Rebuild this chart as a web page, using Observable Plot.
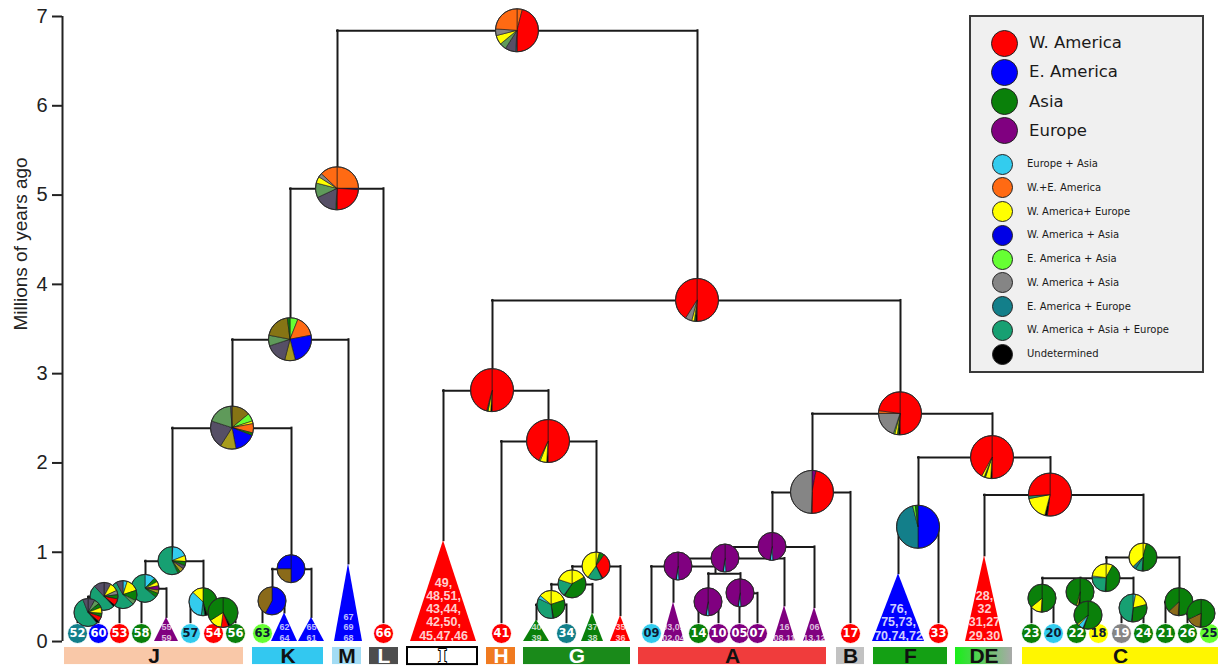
<!DOCTYPE html>
<html>
<head>
<meta charset="utf-8">
<script src="https://cdn.jsdelivr.net/npm/d3@7"></script>
<script src="https://cdn.jsdelivr.net/npm/@observablehq/plot@0.6"></script>
<style>
html,body{margin:0;padding:0;background:#fff;}
#wrap{position:relative;width:1218px;height:668px;overflow:hidden;}
#legend{position:absolute;left:969px;top:15px;width:231px;height:354px;border:2px solid #3a3a3a;background:#f0f0f0;font-family:"DejaVu Sans",Verdana,sans-serif;color:#1a1a1a;}
#legend .sw{position:absolute;border-radius:50%;box-sizing:border-box;border:1px solid #222;}
#legend .lb{position:absolute;white-space:nowrap;line-height:1;transform:translateY(-50%);}
</style>
</head>
<body>
<div id="wrap"><div id="legend"></div></div>
<script>
// ---------- area categories ----------
const regionKeys = ["WA","EA","AS","EU","EUAS","WAEA","WAEU","WAAS","EAAS","WAAS2","EAEU","WAASEU","UND","DG","OL","KH","MG","BR","NV"];
const regionColors = ["#ff0000","#0000ff","#0a800a","#800080","#33ccee","#ff6a13","#ffff00","#0000e6","#66ff33","#858585","#137f8a","#17a072","#000000","#564f66","#867414","#a89c1c","#5f9a5a","#8a6a1a","#1a1a80"];
const legendKeys = ["WA","EA","AS","EU","EUAS","WAEA","WAEU","WAAS","EAAS","WAAS2","EAEU","WAASEU","UND"];
const legendLabels = ["W. America","E. America","Asia","Europe","Europe + Asia","W.+E. America","W. America+ Europe","W. America + Asia","E. America + Asia","W. America + Asia","E. America + Europe","W. America + Asia + Europe","Undetermined"];
const colorOf = k => regionColors[regionKeys.indexOf(k)];

// ---------- internal nodes (leaf-axis position, age in Myr, children) ----------
const nodeIds = ["Root","N5","N34","N24","NJ","P4","P3","P2","P1","Q1","Q2","NK","KA","N38","NI","NG","G3","G2","G1","NB","NA","A1","A2","A3","A3b","A4","A5","NC","NF","ND","NC2","C1","Ca","Cb","Cb2","Cc","CR","CR2"];
const nodePos = [517,337,290,232,172,145,123,104,88,203,223,291,272,697,492,548,596,572,551,900,812,772,725,678,715,708,740,992,918,1050,1143,1106,1042,1080,1088,1133,1179,1201];
const nodeAge = [6.84,5.07,3.38,2.39,0.90,0.59,0.52,0.50,0.32,0.44,0.32,0.81,0.45,3.82,2.81,2.24,0.84,0.64,0.41,2.55,1.67,1.06,0.93,0.84,0.76,0.44,0.54,2.06,1.28,1.64,0.94,0.71,0.48,0.55,0.29,0.37,0.44,0.31];
const nodeChildren = ["N5 N38","N34 66","N24 TM","NJ NK","P4 Q1","P3 T55","P2 58","P1 53","52 60","57 Q2","54 56","KA T65","63 T62","NI NB","TI NG","41 G3","G2 T35","G1 T37","T40 34","NA NC","A1 17","A2 T06","A3 T16","09 T03 A3b","A4 A5","14 10","05 07","NF ND","TF 33","TDE NC2","C1 CR","Ca Cb Cc","23 20","Cb2","22 18","19 24","21 CR2","26 25"];

// ---------- single tips ----------
const tipIds = ["52","60","53","58","57","54","56","63","66","41","34","09","14","10","05","07","17","33","23","20","22","18","19","24","21","26","25"];
const tipPos = [77,98,119,141,190,213,235,262,383,501,566,651,698,718,739,757,850,938,1031,1053,1076,1098,1121,1143,1165,1187,1209];
const tipRegion = ["EAEU","EA","WA","AS","EUAS","WA","AS","EAAS","WA","WA","EAEU","EUAS","AS","EU","EU","EU","WA","WA","AS","EUAS","AS","WAEU","WAAS2","AS","AS","AS","EAAS"];
const tipAge = 0.09;

// ---------- collapsed clades (triangles) ----------
const triIds = ["T55","T62","T65","TM","TI","T40","T37","T35","T03","T16","T06","TF","TDE"];
const triPos = [166,284,311,348,443,536,592,620,673,784,814,898,984];
const triSpread = [12,13,13,14,33,13,11,10,11,11,11,26,19];
const triApex = [0.27,0.32,0.27,0.87,1.13,0.24,0.32,0.29,0.44,0.40,0.38,0.76,0.96];
const triRegion = ["EU","EA","EA","EA","WA","AS","AS","WA","EU","EU","EU","EA","WA"];
const triLabel = ["55\n59","62\n64","65\n61","67\n69\n68","49,\n48,51,\n43,44,\n42,50,\n45,47,46","40\n39","37\n38","35\n36","03,01\n02,04","16\n08,11","06\n13,12","76,\n75,73,\n70,74,72","28,\n32\n31,27\n29,30"];
const triLarge = ["TI","TF","TDE"];

// ---------- ancestral-area pies (clockwise from 12 o'clock) ----------
const pieIds = ["Root","N5","N34","N24","NJ","P4","P3","P2","P1","Q1","Q2","NK","KA","N38","NI","NG","G3","G2","G1","NB","NA","A1","A2","A3","A4","A5","NC","NF","ND","NC2","C1","Ca","Cb","Cb2","Cc","CR","CR2"];
const majorPies = ["Root","N5","N34","N24","N38","NI","NG","NB","NA","NC","NF","ND"];
const europePie = [["EU",.49],["EUAS",.03],["UND",.005],["EU",.475]];
const pieSlices = [
  [["WAEA",.04],["WA",.46],["EAEU",.01],["DG",.08],["MG",.05],["WAEU",.07],["WAAS2",.05],["WAEA",.24]],
  [["WAEA",.25],["NV",.01],["WA",.24],["AS",.01],["DG",.17],["MG",.11],["WAEU",.05],["WAAS2",.03],["WAEA",.13]],
  [["EAAS",.06],["WAEA",.16],["EA",.24],["KH",.08],["DG",.16],["MG",.08],["OL",.20],["AS",.02]],
  [["OL",.14],["EAAS",.06],["WAEU",.02],["WAEA",.07],["AS",.02],["EA",.16],["KH",.12],["DG",.21],["MG",.19],["DG",.01]],
  [["UND",.01],["EUAS",.18],["WAEU",.07],["AS",.05],["DG",.04],["KH",.05],["AS",.03],["WAASEU",.57]],
  [["EUAS",.12],["AS",.05],["WAEU",.05],["EU",.05],["KH",.04],["AS",.05],["WAASEU",.64]],
  [["EUAS",.05],["WAEU",.15],["AS",.12],["MG",.05],["WAASEU",.55],["DG",.08]],
  [["DG",.08],["WAEU",.10],["WAAS2",.05],["AS",.05],["WA",.08],["UND",.02],["WAASEU",.50],["DG",.12]],
  [["DG",.08],["MG",.06],["AS",.05],["WAEU",.07],["AS",.04],["WA",.06],["UND",.03],["WAASEU",.55],["DG",.06]],
  [["AS",.45],["UND",.03],["WAASEU",.04],["EUAS",.35],["WAEU",.13]],
  [["AS",.42],["UND",.02],["WA",.08],["WAEU",.14],["AS",.34]],
  [["EA",.5],["BR",.25],["EA",.25]],
  [["EA",.58],["BR",.42]],
  [["WA",.5],["UND",.01],["AS",.01],["WAEU",.02],["WAAS2",.05],["WA",.41]],
  [["WA",.5],["UND",.01],["WAEU",.02],["AS",.01],["WA",.46]],
  [["WA",.5],["UND",.01],["WAEU",.05],["EAAS",.01],["WA",.43]],
  [["WAEU",.04],["AS",.06],["WA",.32],["UND",.01],["WAASEU",.17],["WAEU",.40]],
  [["WAEU",.17],["AS",.42],["UND",.01],["WAASEU",.20],["WAEU",.20]],
  [["WAEU",.20],["AS",.27],["UND",.01],["WAASEU",.34],["EUAS",.04],["WAEU",.14]],
  [["WA",.5],["UND",.01],["AS",.01],["WAEU",.02],["EAAS",.01],["WAAS2",.20],["WAEA",.02],["WA",.23]],
  [["EU",.03],["WA",.47],["UND",.005],["WAAS2",.495]],
  europePie, europePie, europePie, europePie, europePie,
  [["WA",.5],["UND",.01],["WAEU",.04],["AS",.01],["WAEU",.02],["WA",.42]],
  [["EA",.5],["EAEU",.46],["EAAS",.02],["AS",.02]],
  [["WA",.52],["UND",.02],["WAEU",.18],["WAASEU",.02],["WA",.26]],
  [["WAEU",.04],["AS",.46],["UND",.01],["WAASEU",.08],["EAEU",.04],["WAEU",.37]],
  [["WAEU",.08],["AS",.42],["UND",.01],["WAASEU",.24],["EUAS",.02],["WAEU",.23]],
  [["AS",.5],["UND",.01],["WAEU",.13],["AS",.36]],
  [["AS",.5],["UND",.02],["WAEU",.02],["AS",.46]],
  [["AS",.55],["UND",.01],["EUAS",.06],["WAEU",.02],["AS",.36]],
  [["EUAS",.03],["WAEU",.18],["AS",.30],["UND",.01],["WAASEU",.48]],
  [["AS",.5],["UND",.01],["BR",.12],["AS",.37]],
  [["AS",.5],["UND",.01],["BR",.17],["AS",.32]]
];

// ---------- clade bars ----------
const cladeNames = ["J","K","M","L","I","H","G","A","B","F","DE","C"];
const cladeStart = [64,252,332,369,407,486,523,638,836,873,955,1022];
const cladeEnd = [243,323,361,398,477,515,630,826,864,947,1012,1218];
const cladeFill = ["#f9c8a8","#33c8f0","#a2dcf4","#4d4d4d","#ffffff","#f07a20","#1a8a1a","#f03c3c","#c2c2c2","#14a014","url(#deGrad)","#fff600"];
const cladeInk = ["#111","#111","#111","#fff","#fff","#fff","#fff","#111","#111","#111","#111","#111"];

// ---------- derived tables ----------
const nodes = nodeIds.map((id, i) => ({id, pos: nodePos[i], age: nodeAge[i], children: nodeChildren[i].split(" ")}));
const tips = tipIds.map((id, i) => ({id, pos: tipPos[i], age: tipAge, fillColor: colorOf(tipRegion[i]),
  ink: ["EUAS","EAAS","WAEU"].includes(tipRegion[i]) ? "#0c1a33" : "#ffffff"}));
const tris = triIds.map((id, i) => ({id, pos: triPos[i], half: triSpread[i], age: triApex[i], fillColor: colorOf(triRegion[i]), label: triLabel[i]}));
const lookup = new Map();
nodes.forEach(d => lookup.set(d.id, d));
tips.forEach(d => lookup.set(d.id, d));
tris.forEach(d => lookup.set(d.id, d));

const hLinks = nodes.map(n => {
  const xs = [n.pos, ...n.children.map(c => lookup.get(c).pos)];
  return {y: n.age, x1: d3.min(xs), x2: d3.max(xs)};
});
const vLinks = nodes.flatMap(n => n.children.map(c => {
  const ch = lookup.get(c);
  return {x: ch.pos, y1: ch.age, y2: n.age};
}));
const triPts = tris.flatMap(t => [
  {id: t.id, x: t.pos - t.half, y: 0, fillColor: t.fillColor},
  {id: t.id, x: t.pos, y: t.age, fillColor: t.fillColor},
  {id: t.id, x: t.pos + t.half, y: 0, fillColor: t.fillColor}
]);
const pies = pieIds.map((id, i) => ({id, pos: lookup.get(id).pos, age: lookup.get(id).age,
  r: majorPies.includes(id) ? 21.5 : (id === "Q2" ? 15 : 14), slices: pieSlices[i]}));
const clades = cladeNames.map((name, i) => ({name, x1: cladeStart[i], x2: cladeEnd[i], mid: (cladeStart[i] + cladeEnd[i]) / 2,
  fillColor: cladeFill[i], ink: cladeInk[i], outline: name === "I" ? "#000" : "none"}));

// ---------- custom marks ----------
function gradientDefs() {
  const defs = d3.create("svg:defs");
  const lg = defs.append("linearGradient").attr("id", "deGrad").attr("x1", "0").attr("x2", "1").attr("y1", "0").attr("y2", "0");
  lg.append("stop").attr("offset", "0%").attr("stop-color", "#18ee18");
  lg.append("stop").attr("offset", "100%").attr("stop-color", "#a9a9a9");
  return defs.node();
}
function pieMark(index, scales) {
  const g = d3.create("svg:g");
  const arc = d3.arc().innerRadius(0);
  for (const p of pies) {
    const cx = scales.x(p.pos), cy = scales.y(p.age);
    const arcs = d3.pie().sort(null).value(d => d[1])(p.slices);
    const pg = g.append("g").attr("transform", `translate(${cx},${cy})`);
    pg.selectAll("path").data(arcs).join("path")
      .attr("d", d => arc.outerRadius(p.r)(d))
      .attr("fill", d => colorOf(d.data[0]))
      .attr("stroke", "#1a1a1a").attr("stroke-width", 0.6).attr("stroke-linejoin", "round");
    pg.append("circle").attr("r", p.r).attr("fill", "none").attr("stroke", "#2a2a2a").attr("stroke-width", 1);
  }
  return g.node();
}

const sansBold = "'Liberation Sans', Arial, sans-serif";
const plot = Plot.plot({
  width: 1218, height: 668,
  marginLeft: 62, marginRight: 0, marginTop: 16, marginBottom: 0,
  x: {domain: [62, 1218], axis: null},
  y: {domain: [-0.302, 7], axis: null},
  color: {type: "identity"},
  style: {fontFamily: "'Liberation Sans', Arial, sans-serif", background: "white", color: "#222"},
  marks: [
    gradientDefs,
    Plot.rect(clades, {x1: "x1", x2: "x2", y1: -0.067, y2: -0.258, fill: "fillColor", stroke: "outline", strokeWidth: 2}),
    Plot.text(clades.filter(c => c.name !== "I"), {x: "mid", y: -0.168, text: "name", fill: "ink", fontSize: 21, fontWeight: "bold"}),
    Plot.text(clades.filter(c => c.name === "I"), {x: "mid", y: -0.168, text: "name", fill: "#ffffff", stroke: "#000", strokeWidth: 2, paintOrder: "stroke", fontSize: 19, fontWeight: "bold", fontFamily: "'DejaVu Serif', 'Liberation Serif', serif"}),
    Plot.axisY({ticks: d3.range(0, 8), tickFormat: d3.format("d"), tickSize: 10, tickPadding: 5, fontSize: 20, label: null, stroke: "#222", strokeWidth: 2}),
    Plot.ruleX([62], {y1: 0, y2: 7, stroke: "#222", strokeWidth: 2}),
    Plot.ruleY(hLinks, {y: "y", x1: "x1", x2: "x2", stroke: "#1a1a1a", strokeWidth: 2, strokeLinecap: "square"}),
    Plot.ruleX(vLinks, {x: "x", y1: "y1", y2: "y2", stroke: "#1a1a1a", strokeWidth: 2, strokeLinecap: "square"}),
    Plot.area(triPts, {x1: "x", y1: 0, y2: "y", z: "id", fill: "fillColor"}),
    Plot.text(tris.filter(t => !triLarge.includes(t.id)), {x: "pos", y: 0, text: "label", lineAnchor: "bottom", dy: -1, fill: "#ffffff", fillOpacity: 0.75, fontSize: 9, lineHeight: 1.15, fontWeight: "bold", fontFamily: sansBold}),
    Plot.text(tris.filter(t => triLarge.includes(t.id)), {x: "pos", y: 0, text: "label", lineAnchor: "bottom", dy: -2, fill: "#ffffff", fillOpacity: 0.82, fontSize: 12.5, lineHeight: 1.06, fontWeight: "bold", fontFamily: sansBold}),
    Plot.dot(tips, {x: "pos", y: "age", r: 10, fill: "fillColor", stroke: "#ffffff", strokeWidth: 1}),
    Plot.text(tips, {x: "pos", y: "age", text: "id", fill: "ink", fontSize: 11.5, fontWeight: "bold", fontFamily: "'DejaVu Sans', Verdana, sans-serif"}),
    pieMark,
    Plot.text(["Millions of years ago"], {frameAnchor: "left", rotate: -90, dx: -42, dy: -12, fontSize: 19, fill: "#222"})
  ]
});
document.getElementById("wrap").prepend(plot);

// ---------- legend ----------
const legend = document.getElementById("legend");
const boxLeft = 971, boxTop = 17;
legendKeys.forEach((k, i) => {
  const big = i < 4;
  const r = big ? 13.5 : 10.5;
  const cx = big ? 1004 : 1002;
  const cy = big ? 43 + i * 29.3 : 164 + (i - 4) * 23.75;
  const sw = document.createElement("div");
  sw.className = "sw";
  Object.assign(sw.style, {left: (cx - r - boxLeft) + "px", top: (cy - r - boxTop) + "px", width: 2 * r + "px", height: 2 * r + "px", background: colorOf(k)});
  const lb = document.createElement("div");
  lb.className = "lb";
  lb.textContent = legendLabels[i];
  Object.assign(lb.style, {left: ((big ? 1029 : 1027) - boxLeft) + "px", top: (cy - boxTop) + "px", fontSize: (big ? 16.5 : 10) + "px"});
  legend.append(sw, lb);
});
</script>
</body>
</html>
